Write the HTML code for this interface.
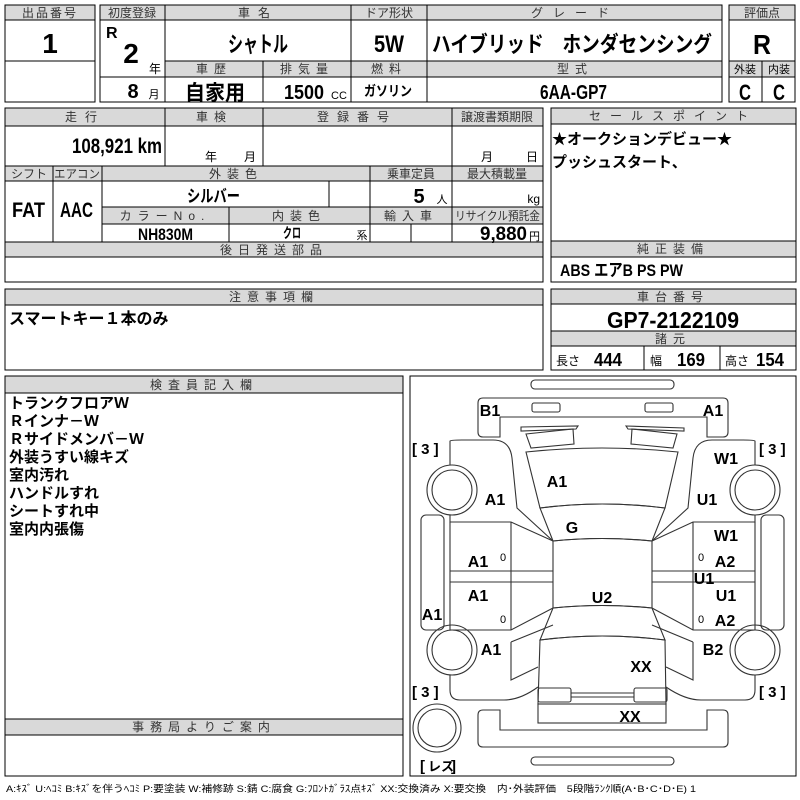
<!DOCTYPE html>
<html><head><meta charset="utf-8"><style>
html,body{margin:0;padding:0;background:#fff;width:800px;height:800px;overflow:hidden}
svg{display:block}
text{font-family:"Liberation Sans","Noto Sans CJK JP",sans-serif;fill:#000}
.h{fill:#d9d9d9;stroke:#000;stroke-width:1}
.c{fill:none;stroke:#000;stroke-width:1}
.hl{font-size:12px;fill:#333;letter-spacing:2px}
.v{font-family:"Liberation Sans","Noto Sans CJK JP",sans-serif;font-weight:bold}
.j{font-family:"Noto Sans CJK JP",sans-serif;font-weight:bold}
.d{fill:none;stroke:#333;stroke-width:1.1}
.lb{font-family:"Liberation Sans","Noto Sans CJK JP",sans-serif;font-weight:bold;font-size:16px}
</style></head><body>
<svg width="800" height="800" viewBox="0 0 800 800" xmlns="http://www.w3.org/2000/svg">
<rect class="h" x="5" y="5" width="90" height="15"/>
<rect class="c" x="5" y="5" width="90" height="97"/>
<line class="c" x1="5" y1="61" x2="95" y2="61"/>
<text class="hl" x="50" y="17" text-anchor="middle">出品番号</text>
<text class="v" x="50" y="53" font-size="28" text-anchor="middle">1</text>

<rect class="h" x="100" y="5" width="622" height="15"/>
<rect class="h" x="165" y="61" width="557" height="16"/>
<rect class="c" x="100" y="5" width="622" height="97"/>
<line class="c" x1="165" y1="5" x2="165" y2="102"/>
<line class="c" x1="351" y1="5" x2="351" y2="102"/>
<line class="c" x1="427" y1="5" x2="427" y2="102"/>
<line class="c" x1="263" y1="61" x2="263" y2="102"/>
<line class="c" x1="100" y1="77" x2="722" y2="77"/>
<text class="hl" x="132" y="17" text-anchor="middle" style="letter-spacing:0">初度登録</text>
<text class="hl" x="258" y="17" text-anchor="middle" style="letter-spacing:8px">車名</text>
<text class="hl" x="389" y="17" text-anchor="middle" style="letter-spacing:0">ドア形状</text>
<text class="hl" x="575" y="17" text-anchor="middle" style="letter-spacing:10px">グレード</text>
<text class="hl" x="214" y="73" text-anchor="middle" style="letter-spacing:6px">車歴</text>
<text class="hl" x="307" y="73" text-anchor="middle" style="letter-spacing:6px">排気量</text>
<text class="hl" x="389" y="73" text-anchor="middle" style="letter-spacing:6px">燃料</text>
<text class="hl" x="575" y="73" text-anchor="middle" style="letter-spacing:6px">型式</text>
<text class="v" x="106" y="38" font-size="16">R</text>
<text class="v" x="131" y="63" font-size="28" text-anchor="middle">2</text>
<text x="155" y="73" font-size="12" text-anchor="middle">年</text>
<text class="v" x="133" y="98" font-size="20" text-anchor="middle">8</text>
<text x="154" y="98" font-size="11" text-anchor="middle">月</text>
<text class="j" x="228" y="52" font-size="22" textLength="60" lengthAdjust="spacingAndGlyphs">シャトル</text>
<text class="v" x="374" y="52" font-size="24" textLength="30" lengthAdjust="spacingAndGlyphs">5W</text>
<text class="j" x="432" y="52" font-size="22" textLength="280" lengthAdjust="spacingAndGlyphs">ハイブリッド　ホンダセンシング</text>
<text class="j" x="185" y="100" font-size="21" textLength="60" lengthAdjust="spacingAndGlyphs">自家用</text>
<text class="v" x="284" y="99" font-size="20" textLength="40" lengthAdjust="spacingAndGlyphs">1500</text>
<text x="339" y="99" font-size="11" text-anchor="middle">CC</text>
<text class="j" x="364" y="96" font-size="14" textLength="48" lengthAdjust="spacingAndGlyphs">ガソリン</text>
<text class="v" x="540" y="99" font-size="20" textLength="67" lengthAdjust="spacingAndGlyphs">6AA-GP7</text>

<rect class="h" x="729" y="5" width="66" height="15"/>
<rect class="h" x="729" y="61" width="66" height="16"/>
<rect class="c" x="729" y="5" width="66" height="97"/>
<line class="c" x1="729" y1="77" x2="795" y2="77"/>
<line class="c" x1="762" y1="61" x2="762" y2="102"/>
<text class="hl" x="762" y="17" text-anchor="middle" style="letter-spacing:0">評価点</text>
<text class="v" x="762" y="54" font-size="28" text-anchor="middle" textLength="18" lengthAdjust="spacingAndGlyphs">R</text>
<text x="745" y="73" font-size="11" text-anchor="middle" fill="#333">外装</text>
<text x="779" y="73" font-size="11" text-anchor="middle" fill="#333">内装</text>
<text class="v" x="745" y="100" font-size="22" text-anchor="middle" textLength="12" lengthAdjust="spacingAndGlyphs">C</text>
<text class="v" x="779" y="100" font-size="22" text-anchor="middle" textLength="12" lengthAdjust="spacingAndGlyphs">C</text>

<rect class="h" x="5" y="108" width="538" height="18"/>
<rect class="h" x="5" y="166" width="538" height="15"/>
<rect class="h" x="102" y="207" width="441" height="17"/>
<rect class="h" x="5" y="242" width="538" height="15"/>
<rect class="c" x="5" y="108" width="538" height="174"/>
<line class="c" x1="165" y1="108" x2="165" y2="166"/>
<line class="c" x1="263" y1="108" x2="263" y2="166"/>
<line class="c" x1="452" y1="108" x2="452" y2="166"/>
<line class="c" x1="5" y1="166" x2="543" y2="166"/>
<line class="c" x1="53" y1="166" x2="53" y2="242"/>
<line class="c" x1="102" y1="166" x2="102" y2="242"/>
<line class="c" x1="370" y1="166" x2="370" y2="242"/>
<line class="c" x1="452" y1="166" x2="452" y2="242"/>
<line class="c" x1="329" y1="181" x2="329" y2="207"/>
<line class="c" x1="229" y1="207" x2="229" y2="242"/>
<line class="c" x1="411" y1="224" x2="411" y2="242"/>
<line class="c" x1="5" y1="242" x2="543" y2="242"/>
<text class="hl" x="85" y="121" text-anchor="middle" style="letter-spacing:8px">走行</text>
<text class="hl" x="214" y="121" text-anchor="middle" style="letter-spacing:6px">車検</text>
<text class="hl" x="357" y="121" text-anchor="middle" style="letter-spacing:8px">登録番号</text>
<text class="hl" x="497" y="121" text-anchor="middle" style="letter-spacing:0">譲渡書類期限</text>
<text class="v" x="72" y="153" font-size="21" textLength="90" lengthAdjust="spacingAndGlyphs">108,921 km</text>
<text x="211" y="161" font-size="12" text-anchor="middle">年</text>
<text x="250" y="161" font-size="12" text-anchor="middle">月</text>
<text x="487" y="161" font-size="12" text-anchor="middle">月</text>
<text x="532" y="161" font-size="12" text-anchor="middle">日</text>
<text class="hl" x="29" y="178" text-anchor="middle" style="letter-spacing:0">シフト</text>
<text class="hl" x="77" y="178" text-anchor="middle" style="letter-spacing:0" textLength="46" lengthAdjust="spacingAndGlyphs">エアコン</text>
<text class="hl" x="236" y="178" text-anchor="middle" style="letter-spacing:6px">外装色</text>
<text class="hl" x="411" y="178" text-anchor="middle" style="letter-spacing:0">乗車定員</text>
<text class="hl" x="497" y="178" text-anchor="middle" style="letter-spacing:0">最大積載量</text>
<text class="v" x="12" y="217" font-size="21" textLength="33" lengthAdjust="spacingAndGlyphs">FAT</text>
<text class="v" x="60" y="217" font-size="21" textLength="33" lengthAdjust="spacingAndGlyphs">AAC</text>
<text class="j" x="187" y="202" font-size="17" textLength="53" lengthAdjust="spacingAndGlyphs">シルバー</text>
<text class="v" x="419" y="203" font-size="20" text-anchor="middle">5</text>
<text x="442" y="203" font-size="11" text-anchor="middle">人</text>
<text x="540" y="203" font-size="12" text-anchor="end">kg</text>
<text class="hl" x="165" y="220" text-anchor="middle" style="letter-spacing:6px">カラーNo.</text>
<text class="hl" x="299" y="220" text-anchor="middle" style="letter-spacing:6px">内装色</text>
<text class="hl" x="411" y="220" text-anchor="middle" style="letter-spacing:6px">輸入車</text>
<text class="hl" x="455" y="220" style="letter-spacing:0" textLength="85" lengthAdjust="spacingAndGlyphs">リサイクル預託金</text>
<text class="v" x="138" y="240" font-size="17" textLength="55" lengthAdjust="spacingAndGlyphs">NH830M</text>
<text class="j" x="283" y="238" font-size="14" textLength="18" lengthAdjust="spacingAndGlyphs">クロ</text>
<text x="362" y="239" font-size="11" text-anchor="middle">系</text>
<text class="v" x="480" y="240" font-size="19" textLength="47" lengthAdjust="spacingAndGlyphs">9,880</text>
<text x="540" y="240" font-size="11" text-anchor="end">円</text>
<text class="hl" x="274" y="254" text-anchor="middle" style="letter-spacing:6px">後日発送部品</text>

<rect class="h" x="551" y="108" width="245" height="16"/>
<rect class="h" x="551" y="241" width="245" height="16"/>
<rect class="c" x="551" y="108" width="245" height="174"/>
<text class="hl" x="673" y="120" text-anchor="middle" style="letter-spacing:9px">セールスポイント</text>
<text class="j" x="552" y="144" font-size="15">★オークションデビュー★</text>
<text class="j" x="552" y="167" font-size="15">プッシュスタート、</text>
<text class="hl" x="673" y="253" text-anchor="middle" style="letter-spacing:6px">純正装備</text>
<text class="v" x="560" y="276" font-size="17" textLength="123" lengthAdjust="spacingAndGlyphs">ABS エアB PS PW</text>

<rect class="h" x="5" y="289" width="538" height="16"/>
<rect class="c" x="5" y="289" width="538" height="81"/>
<text class="hl" x="274" y="301" text-anchor="middle" style="letter-spacing:6px">注意事項欄</text>
<text class="j" x="9" y="324" font-size="16">スマートキー１本のみ</text>

<rect class="h" x="551" y="289" width="245" height="15"/>
<rect class="h" x="551" y="331" width="245" height="15"/>
<rect class="c" x="551" y="289" width="245" height="81"/>
<line class="c" x1="551" y1="331" x2="796" y2="331"/>
<line class="c" x1="644" y1="346" x2="644" y2="370"/>
<line class="c" x1="720" y1="346" x2="720" y2="370"/>
<text class="hl" x="673" y="301" text-anchor="middle" style="letter-spacing:6px">車台番号</text>
<text class="v" x="607" y="328" font-size="23" textLength="132" lengthAdjust="spacingAndGlyphs">GP7-2122109</text>
<text class="hl" x="673" y="343" text-anchor="middle" style="letter-spacing:6px">諸元</text>
<text x="556" y="365" font-size="12" fill="#333">長さ</text>
<text class="v" x="594" y="366" font-size="18" textLength="28" lengthAdjust="spacingAndGlyphs">444</text>
<text x="650" y="365" font-size="12" fill="#333">幅</text>
<text class="v" x="677" y="366" font-size="18" textLength="28" lengthAdjust="spacingAndGlyphs">169</text>
<text x="725" y="365" font-size="12" fill="#333">高さ</text>
<text class="v" x="756" y="366" font-size="18" textLength="28" lengthAdjust="spacingAndGlyphs">154</text>

<rect class="h" x="5" y="376" width="398" height="17"/>
<rect class="h" x="5" y="719" width="398" height="16"/>
<rect class="c" x="5" y="376" width="398" height="400"/>
<text class="hl" x="204" y="389" text-anchor="middle" style="letter-spacing:6px">検査員記入欄</text>
<text class="hl" x="204" y="731" text-anchor="middle" style="letter-spacing:6px">事務局よりご案内</text>
<g class="j" font-size="15">
<text x="9" y="408">トランクフロアＷ</text>
<text x="9" y="426">Ｒインナ－Ｗ</text>
<text x="9" y="444">Ｒサイドメンバ－Ｗ</text>
<text x="9" y="462">外装うすい線キズ</text>
<text x="9" y="480">室内汚れ</text>
<text x="9" y="498">ハンドルすれ</text>
<text x="9" y="516">シートすれ中</text>
<text x="9" y="534">室内内張傷</text>
</g>

<rect class="c" x="410" y="376" width="386" height="400"/>
<g class="d">
<rect x="531" y="380" width="143" height="9" rx="4"/>
<path d="M483,398 H723 Q728,398 728,403 V432 Q728,437 723,437 H707 V417 H500 V437 H483 Q478,437 478,432 V403 Q478,398 483,398 Z"/>
<rect x="532" y="403" width="28" height="9" rx="2"/>
<rect x="645" y="403" width="28" height="9" rx="2"/>
<path d="M521,427 L578,426 L576,429 L521,431 Z"/>
<path d="M626,426 L684,428 L684,431 L628,429 Z"/>
<path d="M526,434 L573,429 L574,444 L531,448 Z"/>
<path d="M632,429 L677,434 L673,448 L631,444 Z"/>
<path d="M526,452 Q602,444 678,452 L665,508 Q602,500 540,508 Z"/>
<path d="M540,508 Q602,500 665,508 L652,541 Q602,536 553,541 Z"/>
<path d="M553,541 Q602,536 652,541 V608 Q602,603 553,608 Z"/>
<path d="M553,608 Q602,603 652,608 L665,640 Q602,632 540,640 Z"/>
<path d="M540,640 Q602,632 665,640 L666,704 H538 Z"/>
<rect x="538" y="688" width="33" height="14" rx="2"/>
<rect x="634" y="688" width="33" height="14" rx="2"/>
<line x1="571" y1="693" x2="634" y2="693"/>
<line x1="571" y1="697" x2="634" y2="697"/>
<rect x="538" y="704" width="128" height="19"/>
<path d="M450,441 Q450,440 462,440 H493 Q510,440 512,458 L517,508 L553,541"/>
<path d="M450,441 V465"/>
<path d="M450,515 V522 H511 L553,541"/>
<path d="M450,522 V630 H511 L553,608"/>
<path d="M511,522 V630"/>
<line x1="450" y1="571" x2="553" y2="571"/>
<line x1="450" y1="582" x2="553" y2="582"/>
<path d="M511,642 L553,625 M511,642 V680 L538,667"/>
<path d="M450,675 V690 Q450,700 460,700 H504 Q520,700 538,687"/>
<path d="M755,441 Q755,440 743,440 H712 Q695,440 693,458 L688,508 L652,541"/>
<path d="M755,441 V465"/>
<path d="M755,515 V522 H693 L652,541"/>
<path d="M755,522 V630 H693 L652,608"/>
<path d="M693,522 V630"/>
<line x1="652" y1="571" x2="755" y2="571"/>
<line x1="652" y1="582" x2="755" y2="582"/>
<path d="M693,642 L652,625 M693,642 V680 L666,667"/>
<path d="M755,675 V690 Q755,700 745,700 H701 Q685,700 666,687"/>
<rect x="421" y="515" width="23" height="115" rx="5"/>
<rect x="761" y="515" width="23" height="115" rx="5"/>
<path d="M483,710 H500 V730 H707 V710 H723 Q728,710 728,715 V742 Q728,747 723,747 H483 Q478,747 478,742 V715 Q478,710 483,710 Z"/>
<rect x="531" y="757" width="143" height="8" rx="4"/>
<circle cx="452" cy="490" r="25"/><circle cx="452" cy="490" r="20"/>
<circle cx="755" cy="490" r="25"/><circle cx="755" cy="490" r="20"/>
<circle cx="452" cy="650" r="25"/><circle cx="452" cy="650" r="20"/>
<circle cx="755" cy="650" r="25"/><circle cx="755" cy="650" r="20"/>
<circle cx="437" cy="728" r="24"/><circle cx="437" cy="728" r="19"/>
</g>
<g class="lb">
<text x="490" y="416" text-anchor="middle">B1</text>
<text x="713" y="416" text-anchor="middle">A1</text>
<text x="557" y="487" text-anchor="middle">A1</text>
<text x="495" y="505" text-anchor="middle">A1</text>
<text x="707" y="505" text-anchor="middle">U1</text>
<text x="726" y="464" text-anchor="middle">W1</text>
<text x="572" y="533" text-anchor="middle">G</text>
<text x="726" y="541" text-anchor="middle">W1</text>
<text x="478" y="567" text-anchor="middle">A1</text>
<text x="725" y="567" text-anchor="middle">A2</text>
<text x="704" y="584" text-anchor="middle">U1</text>
<text x="478" y="601" text-anchor="middle">A1</text>
<text x="602" y="603" text-anchor="middle">U2</text>
<text x="726" y="601" text-anchor="middle">U1</text>
<text x="432" y="620" text-anchor="middle">A1</text>
<text x="725" y="626" text-anchor="middle">A2</text>
<text x="491" y="655" text-anchor="middle">A1</text>
<text x="713" y="655" text-anchor="middle">B2</text>
<text x="641" y="672" text-anchor="middle">XX</text>
<text x="630" y="722" text-anchor="middle">XX</text>
</g>
<g font-size="11" fill="#333">
<text x="503" y="561" text-anchor="middle">0</text>
<text x="503" y="623" text-anchor="middle">0</text>
<text x="701" y="561" text-anchor="middle">0</text>
<text x="701" y="623" text-anchor="middle">0</text>
</g>
<g font-size="15" font-weight="bold">
<text x="412" y="454">[ 3 ]</text>
<text x="759" y="454">[ 3 ]</text>
<text x="412" y="697">[ 3 ]</text>
<text x="759" y="697">[ 3 ]</text>
<text x="420" y="771">[</text>
<text x="451" y="771">]</text>
<text class="j" x="428" y="771" font-size="13">レス</text>
</g>
<text x="6" y="792" font-size="9.5" fill="#333" textLength="690" lengthAdjust="spacingAndGlyphs">A:ｷｽﾞ U:ﾍｺﾐ B:ｷｽﾞを伴うﾍｺﾐ P:要塗装 W:補修跡 S:錆 C:腐食 G:ﾌﾛﾝﾄｶﾞﾗｽ点ｷｽﾞ XX:交換済み X:要交換　内･外装評価　5段階ﾗﾝｸ順(A･B･C･D･E) 1</text>
</svg>
</body></html>
